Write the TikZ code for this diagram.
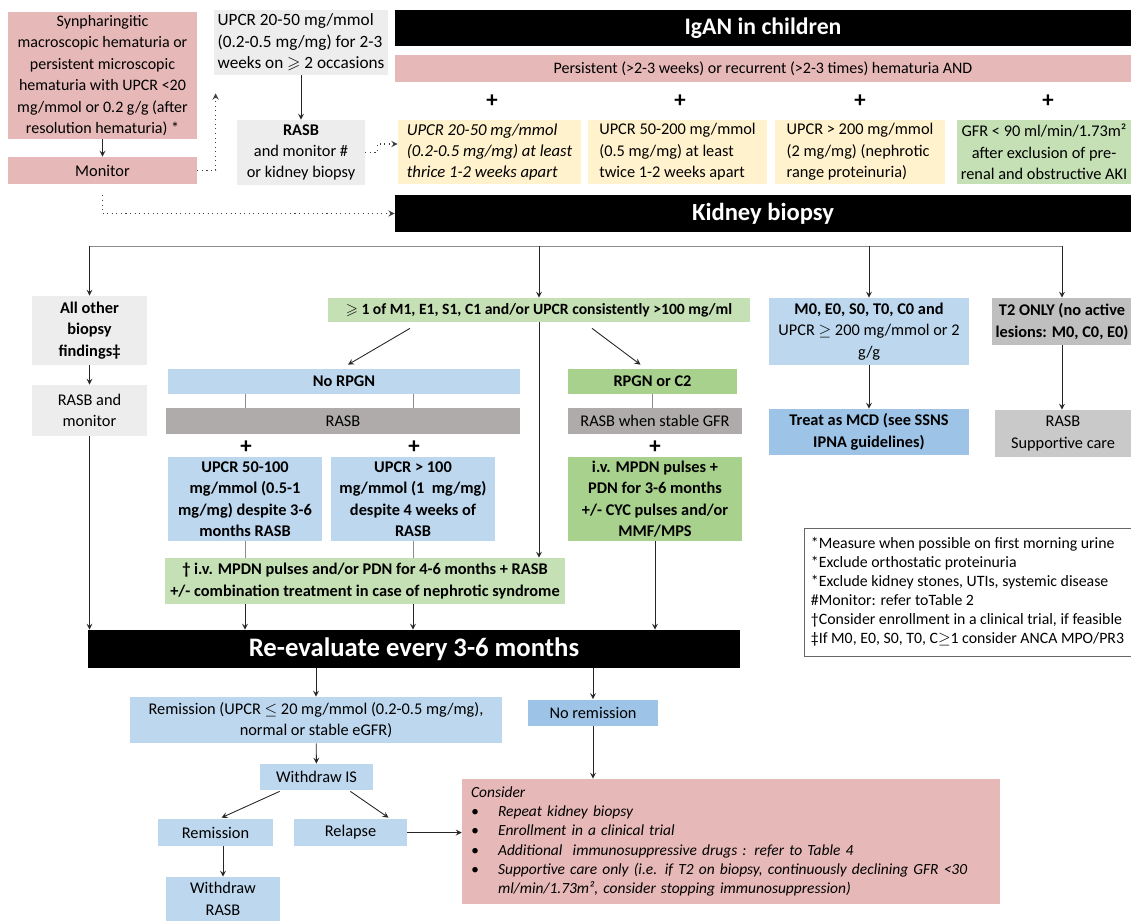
\documentclass[tikz,border=0pt]{standalone}
\usepackage{amssymb}
\usepackage{fontspec}
\setmainfont{Carlito}
\usetikzlibrary{calc}
\definecolor{pinkc}{HTML}{E6B9B8}
\definecolor{greyl}{HTML}{EDEDED}
\definecolor{greyd}{HTML}{AFABAB}
\definecolor{greym}{HTML}{BFBFBF}
\definecolor{yell}{HTML}{FFF2CC}
\definecolor{greenl}{HTML}{C5E0B4}
\definecolor{greend}{HTML}{A9D18E}
\definecolor{bluel}{HTML}{BDD7EE}
\definecolor{blued}{HTML}{9DC3E6}
\newcommand{\gqs}{$\geqslant$}
\newcommand{\gqq}{$\geq$}
\newcommand{\lqq}{$\leq$}

\begin{document}
\begin{tikzpicture}[x=0.02cm,y=-0.02cm,
	bx/.style={rectangle,inner sep=1pt,align=center,font=\fontsize{9.3}{12.2}\selectfont},
	bfb/.style={font=\fontsize{9.3}{12.2}\selectfont\bfseries},
	sz/.style 2 args={minimum width=#1*0.02cm,minimum height=#2*0.02cm},
	pinkbox/.style={bx,fill=pinkc},
	greybox/.style={bx,fill=greyl},
	darkgrey/.style={bx,fill=greyd},
	midgrey/.style={bx,fill=greym},
	yellbox/.style={bx,fill=yell,align=left},
	greenbox/.style={bx,fill=greenl},
	dgreenbox/.style={bx,fill=greend},
	bluebox/.style={bx,fill=bluel},
	dbluebox/.style={bx,fill=blued},
	blackbar/.style={rectangle,inner sep=1pt,fill=black,text=white,font=\fontsize{14}{17}\selectfont\bfseries},
	plussign/.style={inner sep=0pt,font=\fontsize{13}{13}\selectfont\bfseries},
	con/.style={-stealth,draw=black!85,line width=0.5pt},
	gline/.style={draw=black!45,line width=0.5pt},
	dotline/.style={-stealth,dotted,draw=black!75,line width=0.6pt}]
	\useasboundingbox (0,0) rectangle (1131,921);
	
	% entry
	\node[pinkbox,sz={189}{127},font=\fontsize{9.1}{12.2}\selectfont] (synph) at (102.5,75.5) {Synpharingitic\\macroscopic hematuria or\\persistent microscopic\\hematuria with UPCR <20\\mg/mmol or 0.2 g/g (after\\resolution hematuria) *};
	\node[pinkbox,sz={189}{27}] (monitor) at (102.5,170.5) {Monitor};
	\node[greybox,sz={174}{65},align=left,font=\fontsize{9.8}{12.2}\selectfont] (upcrg) at (301,42.5) {UPCR 20-50 mg/mmol\\(0.2-0.5 mg/mg) for 2-3\\weeks on \gqs{} 2 occasions};
	\node[greybox,sz={128}{65}] (rasbg) at (301,152.5) {\textbf{RASB}\\and monitor \#\\or kidney biopsy};
	\node[blackbar,sz={736}{36},font=\fontsize{13.5}{16}\selectfont\bfseries] (igan) at (763,28) {IgAN in children};
	\node[pinkbox,sz={736}{27},font=\fontsize{9.1}{10}\selectfont] (hemat) at (763,68.5) {Persistent (>2-3 weeks) or recurrent (>2-3 times) hematuria AND};
	\node[plussign] (p1) at (492,101) {+};
	\node[plussign] (p2) at (680,101) {+};
	\node[plussign] (p3) at (860,101) {+};
	\node[plussign] (p4) at (1048,101) {+};
	\node[yellbox,sz={183}{64},font=\fontsize{9.5}{12.2}\selectfont\itshape] (ya) at (489.5,152) {UPCR 20-50 mg/mmol\\(0.2-0.5 mg/mg) at least\\thrice 1-2 weeks apart};
	\node[yellbox,sz={179}{64}] (yb) at (677.5,152) {UPCR 50-200 mg/mmol\\(0.5 mg/mg) at least\\twice 1-2 weeks apart};
	\node[yellbox,sz={170}{64}] (yc) at (860,152) {UPCR > 200 mg/mmol\\(2 mg/mg) (nephrotic\\range proteinuria)};
	\node[greenbox,sz={174}{64}] (gfr) at (1044,152) {GFR < 90 ml/min/1.73m²\\after exclusion of pre-\\renal and obstructive AKI};
	\node[blackbar,sz={736}{37}] (biopsy) at (763,213.5) {Kidney biopsy};
	
	% biopsy findings
	\coordinate (split) at (0,246);
	\node[greybox,sz={115}{69},bfb] (other) at (89.5,330.5) {All other\\biopsy\\findings‡};
	\node[greybox,sz={115}{51}] (rasbmon) at (89.5,410.5) {RASB and\\monitor};
	\node[greenbox,sz={422}{24},font=\fontsize{8.9}{12}\selectfont\bfseries] (m1) at (539,310) {\gqs{} 1 of M1, E1, S1, C1 and/or UPCR consistently >100 mg/ml};
	\node[bluebox,sz={352}{25},bfb] (norpgn) at (344,381.5) {No RPGN};
	\node[darkgrey,sz={354}{26}] (rasbbar) at (343,421) {RASB};
	\node[plussign] (p5) at (246,447) {+};
	\node[plussign] (p6) at (414,447) {+};
	\node[bluebox,sz={154}{84},bfb] (ua) at (245,499) {UPCR 50-100\\mg/mmol (0.5-1\\mg/mg) despite 3-6\\months RASB};
	\node[bluebox,sz={164}{84},bfb] (ub) at (413,499) {UPCR > 100\\mg/mmol (1~ mg/mg)\\despite 4 weeks of\\RASB};
	\node[greenbox,sz={400}{46},bfb] (treat) at (365,581) {† i.v. MPDN pulses and/or PDN for 4-6 months + RASB\\+/- combination treatment in case of nephrotic syndrome};
	\node[dgreenbox,sz={169}{25},bfb] (rpgn) at (652.5,381.5) {RPGN or C2};
	\node[darkgrey,sz={174}{26}] (rasbst) at (655,421) {RASB when stable GFR};
	\node[plussign] (p7) at (655,447) {+};
	\node[dgreenbox,sz={174}{84},bfb] (ivm) at (655,499) {i.v. MPDN pulses +\\PDN for 3-6 months\\+/- CYC pulses and/or\\MMF/MPS};
	\node[bluebox,sz={200}{67}] (m0) at (869,331.5) {\textbf{M0, E0, S0, T0, C0 and}\\UPCR \gqq{} 200 mg/mmol or 2\\g/g};
	\node[dbluebox,sz={200}{46},bfb] (mcd) at (869,432) {Treat as MCD (see SSNS\\IPNA guidelines)};
	\node[midgrey,sz={140}{47},bfb] (t2) at (1062,321.5) {T2 ONLY (no active\\lesions: M0, C0, E0)};
	\node[midgrey,sz={136}{47},fill=greym!85] (supp) at (1063,433.5) {RASB\\Supportive care};
	\node[rectangle,draw=black!60,fill=white,sz={327}{128},inner sep=1pt,align=left,font=\fontsize{9}{10.8}\selectfont] (legend) at (967.5,592) {*Measure when possible on first morning urine\\*Exclude orthostatic proteinuria\\*Exclude kidney stones, UTIs, systemic disease\\\#Monitor: refer toTable 2\\†Consider enrollment in a clinical trial, if feasible\\‡If M0, E0, S0, T0, C\gqq{}1 consider ANCA MPO/PR3};
	
	% follow-up
	\node[blackbar,sz={652}{38},font=\fontsize{15.2}{18}\selectfont\bfseries] (reeval) at (414,649) {Re-evaluate every 3-6 months};
	\node[bluebox,sz={372}{46}] (rem) at (316,720) {Remission (UPCR \lqq{} 20 mg/mmol (0.2-0.5 mg/mg),\\normal or stable eGFR)};
	\node[dbluebox,sz={130}{26}] (norem) at (593,712.5) {No remission};
	\node[bluebox,sz={113}{26}] (wis) at (316.5,777) {Withdraw IS};
	\node[bluebox,sz={115}{27}] (remi) at (215.5,832.5) {Remission};
	\node[bluebox,sz={113}{27}] (rel) at (350.5,832.5) {Relapse};
	\node[bluebox,sz={114}{44}] (wrasb) at (223,899) {Withdraw\\RASB};
	\node[pinkbox,inner xsep=0.18cm,text width=10.4cm,minimum height=125*0.02cm,align=left,font=\fontsize{8.8}{11}\selectfont\itshape] (consider) at (731,841.5) {%
		\begin{tabular}{@{}l@{\hspace{11pt}}l@{}}
			\multicolumn{2}{@{}l}{Consider}\\
			\textbullet & Repeat kidney biopsy\\
			\textbullet & Enrollment in a clinical trial\\
			\textbullet & Additional~ immunosuppressive drugs : refer to Table 4\\
			\textbullet & Supportive care only (i.e. if T2 on biopsy, continuously declining GFR <30\\
			& ml/min/1.73m², consider stopping immunosuppression)
		\end{tabular}};
	
	\draw[con] (synph) -- (monitor);
	\draw[con] (upcrg) -- (rasbg);
	\draw[dotline] (monitor.east) -| ($(upcrg.south west)+(2,18)$);
	\draw[dotline] (rasbg.east) -- ++(12,0) |- ($(ya.west)+(0,-8)$);
	\draw[dotline] ($(monitor.south)+(0,11)$) |- (biopsy.west);
	\draw[gline] (other.north |- split) -- (t2.north |- split);
	\draw[con] (other.north |- split) -- (other.north);
	\draw[con] (m1.north |- split) -- (m1.north);
	\draw[con] (m0.north |- split) -- (m0.north);
	\draw[con] (t2.north |- split) -- (t2.north);
	\draw[con] (other) -- (rasbmon);
	\draw[con] (rasbmon.south) -- (rasbmon.south |- reeval.north);
	\draw[con] ($(m1.south)+(-129,6)$) -- ($(norpgn.north)+(4,-4)$);
	\draw[con] ($(m1.south)+(53,6)$) -- ($(rpgn.north)+(-12,-4)$);
	\draw[con] (m1.south) -- (m1.south |- treat.north);
	\draw[gline] (ua.north |- norpgn.south) -- (ua.north |- rasbbar.north);
	\draw[gline] (ub.north |- norpgn.south) -- (ub.north |- rasbbar.north);
	\draw[gline] (ua.south) -- (ua.south |- treat.north);
	\draw[gline] (ub.south) -- (ub.south |- treat.north);
	\draw[con] (ua.south |- treat.south) -- (ua.south |- reeval.north);
	\draw[con] (ub.south |- treat.south) -- (ub.south |- reeval.north);
	\draw[gline] (rpgn.south) -- (rpgn.south |- rasbst.north);
	\draw[con] (ivm.south) -- (ivm.south |- reeval.north);
	\draw[con] (m0) -- (mcd);
	\draw[con] (t2.south) -- (t2.south |- supp.north);
	\draw[con] (rem.north |- reeval.south) -- (rem.north);
	\draw[con] (norem.north |- reeval.south) -- (norem.north);
	\draw[con] (norem.south) -- (norem.south |- consider.north);
	\draw[con] (rem) -- (wis);
	\draw[con] ($(wis.south west)+(20,1)$) -- ($(remi.north)+(6,-1)$);
	\draw[con] ($(wis.south east)+(-23,1)$) -- ($(rel.north)+(38,-1)$);
	\draw[con] (wrasb.north |- remi.south) -- (wrasb.north);
	\draw[con] (rel.east) -- (rel.east -| consider.west);
\end{tikzpicture}
\end{document}
